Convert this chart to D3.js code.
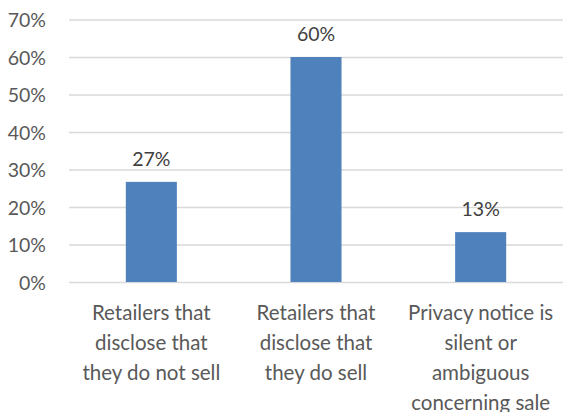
<!DOCTYPE html>
<html>
<head>
<meta charset="utf-8">
<script src="https://cdn.jsdelivr.net/npm/d3@7"></script>
<style>
  html, body { margin: 0; padding: 0; background: #ffffff; }
  svg { display: block; font-family: Lato, "Open Sans", sans-serif; }
</style>
</head>
<body>
<svg id="chart" width="563" height="412"></svg>
<script>
// Share of retailers by how their privacy notice treats the sale of data
const categories = [
  ["Retailers that", "disclose that", "they do not sell"],
  ["Retailers that", "disclose that", "they do sell"],
  ["Privacy notice is", "silent or", "ambiguous", "concerning sale"]
];
const values = [0.267, 0.60, 0.133];
const yTicks = [0, 0.1, 0.2, 0.3, 0.4, 0.5, 0.6, 0.7];

const svg = d3.select("#chart");
const margin = { top: 19.5, right: 0, bottom: 130, left: 69 };
const width = 563, height = 412;

const x = d3.scaleBand()
  .domain(d3.range(values.length))
  .range([margin.left, width - margin.right])
  .paddingInner(0.69)
  .paddingOuter(0.345);

const y = d3.scaleLinear()
  .domain([0, 0.7])
  .range([282, margin.top]);

const pct = d3.format(".0%");
const textColor = "#595959";

// Horizontal gridlines with percentage labels
const yAxis = d3.axisLeft(y)
  .tickValues(yTicks)
  .tickFormat(pct)
  .tickSize(-(width - margin.left))
  .tickPadding(23);

const gy = svg.append("g")
  .attr("transform", `translate(${margin.left},0)`)
  .call(yAxis);
gy.select(".domain").remove();
gy.selectAll(".tick line")
  .attr("stroke", "#d9d9d9")
  .attr("stroke-width", 1.5);
gy.selectAll(".tick text")
  .attr("fill", textColor)
  .attr("font-size", 19.5)
  .attr("dy", "0.36em")
  .style("font-family", "Lato, 'Open Sans', sans-serif");

// Bars
svg.append("g")
  .selectAll("rect")
  .data(values)
  .join("rect")
  .attr("x", (d, i) => x(i))
  .attr("y", d => y(d))
  .attr("width", x.bandwidth())
  .attr("height", d => y(0) - y(d))
  .attr("fill", "#4f81bd");

// Value labels above each bar
svg.append("g")
  .selectAll("text")
  .data(values)
  .join("text")
  .attr("x", (d, i) => x(i) + x.bandwidth() / 2)
  .attr("y", d => y(d) - 16)
  .attr("text-anchor", "middle")
  .attr("fill", "#404040")
  .attr("font-size", 19.5)
  .text(d => pct(d));

// Multi-line category labels
const cat = svg.append("g")
  .selectAll("text")
  .data(categories)
  .join("text")
  .attr("text-anchor", "middle")
  .attr("fill", textColor)
  .attr("font-size", 20.5);

cat.selectAll("tspan")
  .data((d, i) => d.map(line => ({ line, i })))
  .join("tspan")
  .attr("x", d => x(d.i) + x.bandwidth() / 2)
  .attr("y", (d, j) => 320 + j * 30)
  .text(d => d.line);
</script>
</body>
</html>
